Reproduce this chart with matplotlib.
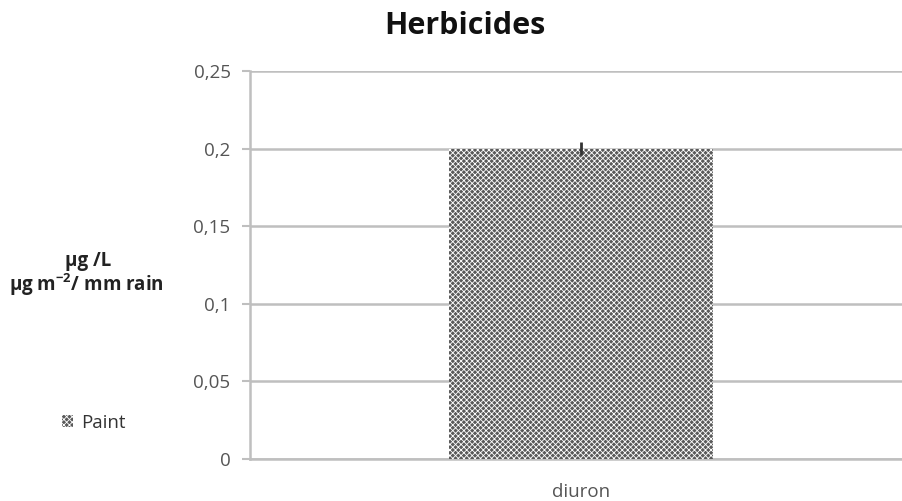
import numpy as np
import matplotlib.pyplot as plt
from matplotlib.patches import Patch

plt.rcParams['font.family'] = ['Open Sans', 'DejaVu Sans']
plt.rcParams['hatch.linewidth'] = 0.6
plt.rcParams['mathtext.default'] = 'regular'

categories = ['diuron']
values = [0.2]
errors = [0.004]
series_name = 'Paint'
yticks = [0, 0.05, 0.1, 0.15, 0.2, 0.25]
ytick_labels = ['0', '0,05', '0,1', '0,15', '0,2', '0,25']

W, H = 902, 501
fig = plt.figure(figsize=(W / 100, H / 100), dpi=100)
# axes runs a little past the right edge, like the cropped original
ax = fig.add_axes([250 / W, 1 - 459 / H, 662 / W, (459 - 71) / H])

grid_col = '#bfbfbf'
x = np.arange(len(categories))
ax.bar(x, values, width=0.40, color='#5a5a5a', edgecolor='white',
       hatch='xxxxxx', linewidth=0, zorder=3)
ax.errorbar(x, values, yerr=errors, fmt='none', ecolor='#333333',
            elinewidth=2, capsize=0, zorder=4)

ax.set_xlim(-0.5, 0.5)
ax.set_ylim(0, 0.25)
ax.set_yticks(yticks)
ax.set_yticklabels(ytick_labels)
ax.set_xticks(x)
ax.set_xticklabels(categories)
ax.yaxis.grid(True, color=grid_col, linewidth=1.8, zorder=0)
ax.set_axisbelow(True)

for s in ['top', 'right']:
    ax.spines[s].set_visible(False)
for s in ['left', 'bottom']:
    ax.spines[s].set_color(grid_col)
    ax.spines[s].set_linewidth(1.8)

ax.tick_params(axis='y', length=6, width=1.5, color=grid_col,
               labelcolor='#555555', labelsize=13.5, pad=8)
ax.tick_params(axis='x', length=0, labelcolor='#555555', labelsize=13.5, pad=17)

fig.text(465 / W, 1 - 26 / H, 'Herbicides', ha='center', va='center',
         fontsize=22, fontweight='bold', color='#111111')
fig.text(88 / W, 1 - 261 / H, 'µg /L', ha='center', va='center',
         fontsize=13.5, fontweight='bold', color='#222222')
fig.text(86 / W, 1 - 285 / H, 'µg m$^{-2}$/ mm rain', ha='center', va='center',
         fontsize=13.5, fontweight='bold', color='#222222')

handle = Patch(facecolor='#5a5a5a', edgecolor='white', hatch='xxxxxx', linewidth=0)
fig.legend([handle], [series_name], loc='center left',
           bbox_to_anchor=(45 / W, 1 - 423 / H), frameon=False,
           fontsize=13.5, handlelength=0.6, handleheight=0.6, handletextpad=0.45,
           labelcolor='#333333')

fig.savefig('out.png', dpi=100)
